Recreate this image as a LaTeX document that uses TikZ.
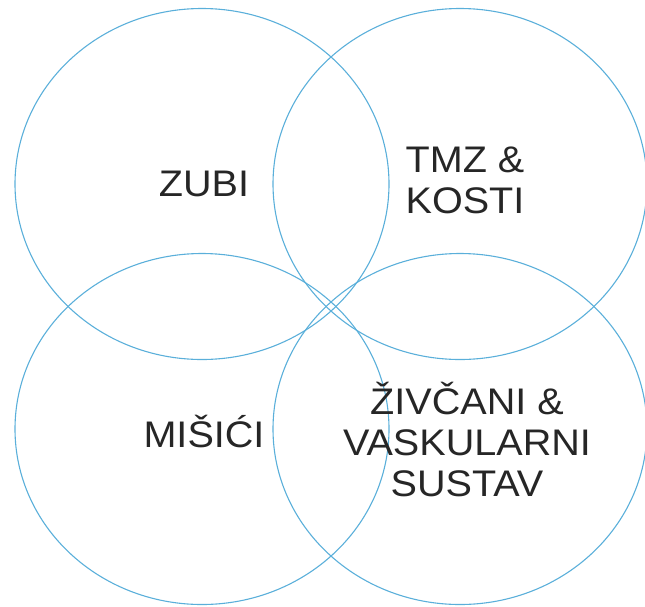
\documentclass[tikz,border=0pt]{standalone}
\usepackage{fontspec}
\setmainfont{Liberation Sans}[FakeStretch=1.07]
\usetikzlibrary{positioning}
\definecolor{ringblue}{RGB}{90,175,218}

\begin{document}
\begin{tikzpicture}[x=1pt,y=-1pt]
\tikzstyle{ring}=[draw=ringblue,line width=1.1pt,x radius=187,y radius=175.5]
\tikzstyle{area}=[align=center,inner sep=0pt,text=black!85,font=\fontsize{37}{41}\selectfont]
\useasboundingbox (0,0) rectangle (645,606);
%\draw (0,0) rectangle (645,606);
\coordinate (zubi) at (202,184);
\coordinate (tmz) at (460,184);
\coordinate (misici) at (202,429);
\coordinate (zivcani) at (460,429);
\draw[ring] (zubi) ellipse [];
\draw[ring] (tmz) ellipse [];
\draw[ring] (misici) ellipse [];
\draw[ring] (zivcani) ellipse [];
\node[area] (zubi text) at (204,184) {ZUBI};
\node[area] (tmz text) at (465,180) {TMZ \&\\KOSTI};
\node[area] (misici text) at (204,432) {MIŠIĆI};
\node[area] (zivcani text) at (467,440) {ŽIVČANI \&\\VASKULARNI\\SUSTAV};
\end{tikzpicture}
\end{document}
